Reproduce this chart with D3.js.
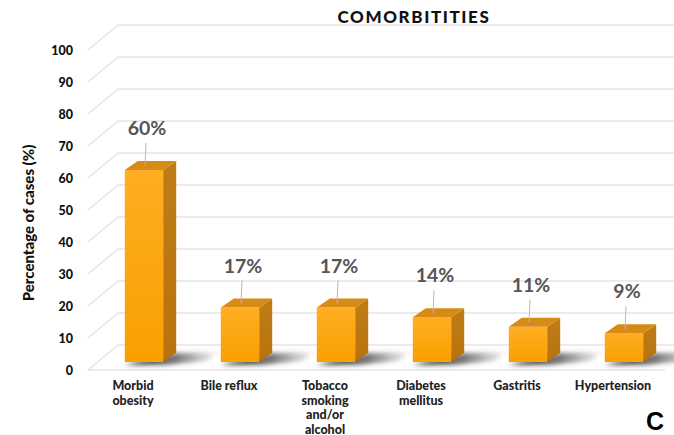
<!DOCTYPE html>
<html>
<head>
<meta charset="utf-8">
<script src="https://cdn.jsdelivr.net/npm/d3@7"></script>
<style>
html,body{margin:0;padding:0;background:#fff;}
svg{display:block;}
</style>
</head>
<body>
<script>
const categories = ["Morbid obesity", "Bile reflux", "Tobacco smoking and/or alcohol", "Diabetes mellitus", "Gastritis", "Hypertension"];
const categoryLines = [["Morbid","obesity"],["Bile reflux"],["Tobacco","smoking","and/or","alcohol"],["Diabetes","mellitus"],["Gastritis"],["Hypertension"]];
const values = [60, 17, 17, 14, 11, 9];
const valueLabels = ["60%", "17%", "17%", "14%", "11%", "9%"];
const yTicks = [0, 10, 20, 30, 40, 50, 60, 70, 80, 90, 100];
const title = "COMORBITITIES";
const yTitle = "Percentage of cases (%)";
const panelLetter = "C";

const W = 674, H = 435;
const FONT = "Lato, 'Open Sans', sans-serif";
const svg = d3.select("body").append("svg").attr("width", W).attr("height", H);
const defs = svg.append("defs");

const x = d3.scaleBand().domain(categories).range([96, 672]).padding(0);
const y = d3.scaleLinear().domain([0, 100]).range([362, 42]);
const dx = 13, dy = 9;
const wallX0 = 88, wallX1 = 118;
const frontOff = 8, backOff = -17;

// gradients
const gFront = defs.append("linearGradient").attr("id","gFront").attr("x1",0).attr("y1",0).attr("x2",0).attr("y2",1);
gFront.append("stop").attr("offset","0%").attr("stop-color","#FFAE22");
gFront.append("stop").attr("offset","100%").attr("stop-color","#F9A000");
const gSide = defs.append("linearGradient").attr("id","gSide").attr("x1",0).attr("y1",0).attr("x2",0).attr("y2",1);
gSide.append("stop").attr("offset","0%").attr("stop-color","#C07C14");
gSide.append("stop").attr("offset","100%").attr("stop-color","#B87310");
const gShadow = defs.append("linearGradient").attr("id","gShadow").attr("x1",0).attr("y1",0).attr("x2",1).attr("y2",0);
gShadow.append("stop").attr("offset","0%").attr("stop-color","#1a1a1a").attr("stop-opacity",0.95);
gShadow.append("stop").attr("offset","55%").attr("stop-color","#333").attr("stop-opacity",0.65);
gShadow.append("stop").attr("offset","100%").attr("stop-color","#555").attr("stop-opacity",0);
defs.append("filter").attr("id","blur").attr("x","-20%").attr("y","-50%").attr("width","140%").attr("height","200%")
  .append("feGaussianBlur").attr("stdDeviation", 2.2);

// gridlines
const grid = svg.append("g").attr("stroke","#e4e4e4").attr("stroke-width",1.4).attr("fill","none");
yTicks.forEach(v => {
  grid.append("line").attr("x1", wallX0).attr("y1", y(v)+frontOff).attr("x2", wallX1).attr("y2", y(v)+backOff);
  grid.append("line").attr("x1", wallX1).attr("y1", y(v)+backOff).attr("x2", W).attr("y2", y(v)+backOff);
});
grid.append("line").attr("x1", wallX0).attr("y1", y(0)+frontOff).attr("x2", 665).attr("y2", y(0)+frontOff);

// tick labels
svg.append("g").selectAll("text").data(yTicks).join("text")
  .attr("x", 73).attr("y", d => y(d)+frontOff).attr("dy","0.36em")
  .attr("text-anchor","end").attr("font-family",FONT)
  .attr("font-weight",900).attr("font-size",12.5).attr("fill","#111")
  .text(d => d);

// y title
svg.append("text").attr("transform","translate(34,223) rotate(-90)")
  .attr("text-anchor","middle").attr("font-family",FONT)
  .attr("font-weight",900).attr("font-size",15).attr("fill","#111").text(yTitle);

// title
svg.append("text").attr("x", 414).attr("y", 23).attr("text-anchor","middle")
  .attr("font-family",FONT).attr("font-weight",900).attr("letter-spacing",1.6)
  .attr("font-size",17).attr("fill","#111").text(title);

const bw = x.bandwidth()*0.4;
const data = categories.map((c,i) => ({c, v: values[i], lab: valueLabels[i], lines: categoryLines[i]}));
const base = y(0);

// shadows
svg.append("g").attr("filter","url(#blur)").selectAll("polygon").data(data).join("polygon")
  .attr("points", d => {
    const x0 = x(d.c) + (x.bandwidth()-bw)/2, x1 = x0 + bw;
    return [[x0, base+3],[x1, base+3],[x1+44, base-1],[x1+dx+44, base-dy-1],[x1+dx, base-dy]].map(p=>p.join(",")).join(" ");
  })
  .attr("fill","url(#gShadow)");

// bars
const bars = svg.append("g").selectAll("g").data(data).join("g");
bars.each(function(d){
  const g = d3.select(this);
  const x0 = x(d.c) + (x.bandwidth()-bw)/2, x1 = x0 + bw, yt = y(d.v);
  g.append("rect").attr("x", x0).attr("y", yt).attr("width", bw).attr("height", base-yt).attr("fill","url(#gFront)");
  g.append("polygon").attr("points", [[x1,yt],[x1+dx,yt-dy],[x1+dx,base-dy],[x1,base]].map(p=>p.join(",")).join(" ")).attr("fill","url(#gSide)");
  g.append("polygon").attr("points", [[x0,yt],[x1,yt],[x1+dx,yt-dy],[x0+dx,yt-dy]].map(p=>p.join(",")).join(" ")).attr("fill","#D68B16");
  const cx = x0 + bw/2 + 2;
  g.append("line").attr("x1", cx).attr("y1", yt-27).attr("x2", cx-1).attr("y2", yt-4).attr("stroke","#b8b8b8").attr("stroke-width",1);
  g.append("text").attr("x", cx+1).attr("y", yt-35).attr("text-anchor","middle")
    .attr("font-family",FONT).attr("font-size",19.5).attr("fill","#555")
    .attr("font-weight","bold").text(d.lab);
  const t = g.append("text").attr("text-anchor","middle")
    .attr("font-family",FONT).attr("font-weight",900)
    .attr("font-size",12.5).attr("fill","#222");
  d.lines.forEach((ln,i) => {
    t.append("tspan").attr("x", x0 + bw/2 - 11).attr("y", 390 + i*14.5).text(ln);
  });
});

// panel letter
svg.append("text").attr("x", 655).attr("y", 430).attr("text-anchor","middle")
  .attr("font-family","'Liberation Sans', Arial, sans-serif").attr("font-weight","bold")
  .attr("font-size",25).attr("fill","#000").text(panelLetter);
</script>
</body>
</html>
